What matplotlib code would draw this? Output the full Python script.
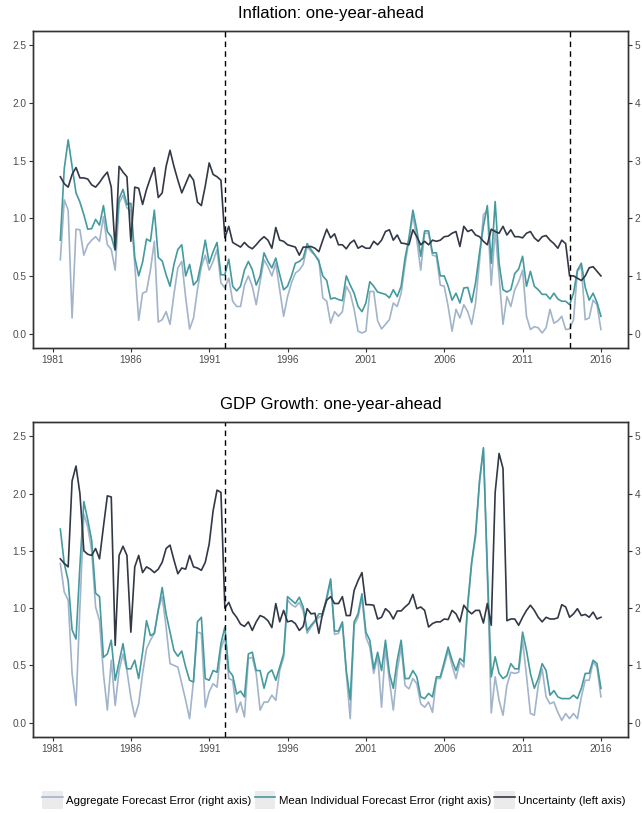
import numpy as np
import matplotlib
matplotlib.use('Agg')
import matplotlib.pyplot as plt
from matplotlib.patches import Rectangle
from matplotlib.lines import Line2D
from matplotlib.legend_handler import HandlerTuple

plt.rcParams['font.family'] = ['Liberation Sans', 'DejaVu Sans']

# quarterly observations, 1981Q3 .. 2016Q1
quarters = 1981.5 + 0.25 * np.arange(139)

# Inflation: uncertainty (left axis)
infl_unc = [1.36, 1.30, 1.27, 1.38, 1.44, 1.35, 1.35, 1.34, 1.29, 1.27,
            1.31, 1.36, 1.40, 1.27, 0.73, 1.45, 1.40, 1.36, 0.80, 1.27,
            1.26, 1.12, 1.25, 1.35, 1.44, 1.18, 1.22, 1.45, 1.59, 1.45,
            1.33, 1.22, 1.30, 1.38, 1.33, 1.14, 1.11, 1.28, 1.48, 1.38,
            1.36, 1.33, 0.83, 0.93, 0.79, 0.77, 0.75, 0.79, 0.755, 0.735,
            0.77, 0.81, 0.84, 0.81, 0.74, 0.92, 0.81, 0.80, 0.77, 0.76,
            0.75, 0.68, 0.75, 0.75, 0.755, 0.74, 0.71, 0.81, 0.905, 0.83,
            0.865, 0.77, 0.77, 0.735, 0.785, 0.81, 0.74, 0.76, 0.74, 0.74,
            0.80, 0.77, 0.81, 0.885, 0.90, 0.81, 0.855, 0.785, 0.78, 0.77,
            0.90, 0.84, 0.77, 0.80, 0.77, 0.81, 0.80, 0.81, 0.84, 0.845,
            0.87, 0.885, 0.755, 0.93, 0.885, 0.90, 0.855, 0.84, 0.80, 0.77,
            0.905, 0.885, 0.87, 0.93, 0.855, 0.90, 0.84, 0.84, 0.83, 0.87,
            0.885, 0.83, 0.80, 0.84, 0.85, 0.81, 0.78, 0.74, 0.81, 0.78,
            0.50, 0.50, 0.48, 0.46, 0.50, 0.57, 0.58, 0.54, 0.50]
# Inflation: aggregate forecast error (right axis)
infl_agg = [1.28, 2.32, 2.14, 0.27, 1.81, 1.80, 1.36, 1.54, 1.62, 1.68,
            1.60, 2.03, 1.54, 1.46, 1.10, 2.26, 2.40, 2.18, 2.12, 1.20,
            0.23, 0.70, 0.73, 1.10, 1.60, 0.20, 0.24, 0.38, 0.16, 0.68,
            1.14, 1.25, 0.62, 0.08, 0.27, 0.76, 1.16, 1.36, 1.10, 1.25,
            1.46, 0.88, 0.79, 0.96, 0.56, 0.47, 0.47, 0.84, 1.00, 0.82,
            0.50, 0.90, 1.28, 1.16, 1.00, 1.22, 0.76, 0.30, 0.64, 0.88,
            1.05, 1.10, 1.20, 1.51, 1.42, 1.36, 1.28, 0.62, 0.56, 0.18,
            0.38, 0.30, 0.38, 0.82, 0.70, 0.42, 0.04, 0.01, 0.04, 0.73,
            0.73, 0.22, 0.08, 0.16, 0.24, 0.53, 0.47, 0.70, 1.20, 1.62,
            2.06, 1.62, 1.10, 1.74, 1.74, 1.36, 1.34, 0.84, 0.82, 0.47,
            0.04, 0.42, 0.27, 0.50, 0.38, 0.16, 0.53, 1.25, 2.06, 2.14,
            0.84, 1.80, 1.00, 0.16, 0.64, 0.47, 0.76, 0.90, 1.10, 0.30,
            0.07, 0.12, 0.10, 0.01, 0.10, 0.42, 0.18, 0.22, 0.30, 0.07,
            0.08, 0.24, 1.08, 1.16, 0.24, 0.27, 0.58, 0.50, 0.07]
# Inflation: mean individual forecast error (right axis)
infl_mean = [1.62, 2.86, 3.36, 2.90, 2.44, 2.28, 2.06, 1.81, 1.82, 1.98,
             1.88, 2.22, 1.77, 1.68, 1.44, 2.34, 2.50, 2.24, 2.26, 1.32,
             1.00, 1.24, 1.64, 1.60, 2.14, 1.32, 1.26, 1.02, 0.82, 1.20,
             1.46, 1.54, 1.00, 1.20, 0.84, 0.92, 1.24, 1.62, 1.22, 1.42,
             1.58, 1.02, 1.02, 1.29, 0.82, 0.74, 0.82, 1.10, 1.25, 1.11,
             0.84, 1.00, 1.40, 1.25, 1.14, 1.31, 1.02, 0.76, 0.82, 1.00,
             1.22, 1.25, 1.31, 1.56, 1.46, 1.36, 1.25, 1.00, 0.92, 0.60,
             0.62, 0.59, 0.57, 1.00, 0.84, 0.70, 0.47, 0.38, 0.53, 0.90,
             0.82, 0.72, 0.70, 0.68, 0.62, 0.76, 0.64, 0.82, 1.31, 1.66,
             2.14, 1.80, 1.34, 1.78, 1.78, 1.40, 1.40, 1.00, 1.00, 0.82,
             0.58, 0.70, 0.53, 0.79, 0.80, 0.54, 0.88, 1.40, 1.86, 2.22,
             1.22, 2.29, 1.22, 0.76, 0.72, 0.76, 1.04, 1.12, 1.34, 0.82,
             1.08, 0.82, 0.76, 0.68, 0.68, 0.60, 0.70, 0.60, 0.56, 0.56,
             0.50, 0.70, 1.10, 1.22, 0.80, 0.58, 0.70, 0.54, 0.30]

# GDP growth: uncertainty (left axis)
gdp_unc = [1.43, 1.39, 1.36, 2.11, 2.24, 2.00, 1.50, 1.47, 1.46, 1.52,
           1.43, 1.71, 1.98, 1.97, 0.675, 1.46, 1.54, 1.46, 0.79, 1.36,
           1.46, 1.31, 1.36, 1.34, 1.31, 1.34, 1.40, 1.52, 1.55, 1.42,
           1.30, 1.35, 1.34, 1.46, 1.36, 1.35, 1.33, 1.40, 1.56, 1.85,
           2.03, 2.01, 1.00, 1.05, 0.965, 0.92, 0.86, 0.84, 0.88, 0.805,
           0.88, 0.935, 0.92, 0.89, 0.83, 1.04, 0.88, 0.98, 0.88, 0.89,
           0.865, 0.805, 0.84, 0.995, 0.95, 0.955, 0.78, 0.965, 1.07, 1.10,
           1.04, 1.04, 1.10, 0.935, 0.935, 1.155, 1.24, 1.31, 1.03, 1.03,
           1.025, 0.905, 0.92, 0.995, 0.965, 0.905, 0.975, 0.975, 1.01, 1.04,
           1.12, 0.995, 1.01, 0.98, 0.835, 0.865, 0.88, 0.88, 0.905, 0.90,
           0.98, 0.95, 0.88, 1.025, 0.98, 0.95, 0.98, 0.98, 0.87, 1.04,
           0.85, 2.01, 2.35, 2.22, 0.89, 0.905, 0.905, 0.85, 0.92, 0.98,
           1.025, 0.98, 0.92, 0.88, 0.92, 0.905, 0.905, 0.915, 1.03, 1.01,
           0.92, 0.95, 0.995, 0.935, 0.945, 0.92, 0.965, 0.905, 0.92]
# GDP growth: aggregate forecast error (right axis)
gdp_agg = [2.78, 2.28, 2.14, 0.86, 0.30, 2.02, 3.64, 3.42, 3.00, 2.02,
           1.78, 0.86, 0.22, 1.09, 0.30, 0.91, 1.20, 0.91, 0.44, 0.10,
           0.33, 0.86, 1.29, 1.44, 1.56, 1.98, 2.20, 1.67, 1.03, 1.00,
           0.97, 0.68, 0.39, 0.07, 0.74, 1.58, 1.56, 0.27, 0.54, 0.68,
           0.62, 1.29, 1.49, 0.77, 0.74, 0.18, 0.36, 0.10, 1.12, 1.14,
           0.86, 0.22, 0.36, 0.36, 0.48, 0.39, 0.91, 1.14, 2.14, 2.06,
           2.02, 2.10, 1.95, 1.56, 1.67, 1.76, 1.84, 1.87, 2.14, 2.48,
           1.54, 1.56, 1.73, 0.86, 0.07, 1.70, 1.84, 2.19, 1.50, 1.32,
           0.86, 1.17, 0.27, 1.32, 0.74, 0.22, 0.91, 1.32, 0.65, 0.59,
           0.77, 0.68, 0.33, 0.27, 0.36, 0.18, 0.77, 0.77, 1.00, 1.26,
           1.00, 0.77, 1.06, 0.97, 2.02, 2.78, 3.24, 4.18, 4.78, 2.60,
           0.17, 0.80, 0.39, 0.13, 0.65, 0.88, 0.86, 0.88, 1.44, 0.82,
           0.16, 0.13, 0.65, 0.94, 0.45, 0.33, 0.36, 0.18, 0.04, 0.16,
           0.07, 0.16, 0.07, 0.45, 0.74, 0.74, 1.06, 0.97, 0.45]
# GDP growth: mean individual forecast error (right axis)
gdp_mean = [3.38, 2.78, 2.48, 1.62, 1.46, 2.74, 3.86, 3.54, 3.18, 2.26,
            2.20, 1.14, 1.20, 1.44, 0.74, 1.06, 1.38, 0.94, 0.94, 1.09,
            0.77, 1.23, 1.78, 1.52, 1.56, 1.96, 2.36, 1.90, 1.58, 1.26,
            1.16, 1.25, 0.97, 0.74, 0.71, 1.76, 1.84, 0.77, 0.74, 0.91,
            0.88, 1.38, 1.67, 0.91, 0.82, 0.50, 0.55, 0.45, 1.20, 1.23,
            0.91, 0.91, 0.60, 0.86, 0.92, 0.74, 0.97, 1.20, 2.20, 2.14,
            2.08, 2.19, 2.02, 1.61, 1.70, 1.78, 1.90, 1.90, 2.19, 2.51,
            1.60, 1.60, 1.76, 0.91, 0.40, 1.76, 1.90, 2.25, 1.58, 1.44,
            0.94, 1.23, 0.91, 1.44, 0.86, 0.60, 1.09, 1.44, 0.77, 0.77,
            0.91, 0.80, 0.45, 0.42, 0.51, 0.45, 0.80, 0.80, 1.06, 1.32,
            1.09, 0.91, 1.12, 1.06, 2.08, 2.80, 3.30, 4.22, 4.80, 2.70,
            0.80, 1.15, 0.86, 0.77, 0.82, 1.03, 0.94, 0.94, 1.58, 1.26,
            0.86, 0.60, 0.77, 1.03, 0.91, 0.48, 0.56, 0.45, 0.42, 0.42,
            0.42, 0.48, 0.42, 0.60, 0.86, 0.86, 1.09, 1.03, 0.60]

c_agg = '#a1b4ca'
c_mean = '#449a9e'
c_unc = '#323846'
tick_color = '#4d4d4d'

fig = plt.figure(figsize=(6.42, 8.13), dpi=100)
ax_top = fig.add_axes([0.052, 0.572, 0.926, 0.390])
ax_bot = fig.add_axes([0.052, 0.0935, 0.926, 0.3875])


def draw_panel(ax, title, unc, agg, mean, breaks):
    ax2 = ax.twinx()
    ax2.plot(quarters, agg, color=c_agg, lw=1.2)
    ax2.plot(quarters, mean, color=c_mean, lw=1.2)
    ax.plot(quarters, unc, color=c_unc, lw=1.2)
    for b in breaks:
        ax.axvline(b, color='black', ls=(0, (4, 3)), lw=1.0)
    ax.set_zorder(ax2.get_zorder() + 1)
    ax.patch.set_visible(False)

    ax.set_xlim(1979.78, 2017.72)
    ax.set_ylim(-0.125, 2.625)
    ax2.set_ylim(-0.25, 5.25)
    ax.set_xticks(range(1981, 2017, 5))
    ax.set_yticks([0, 0.5, 1.0, 1.5, 2.0, 2.5])
    ax.set_yticklabels(['0.0', '0.5', '1.0', '1.5', '2.0', '2.5'])
    ax2.set_yticks(range(6))
    for a in (ax, ax2):
        a.tick_params(length=3, width=0.8, color='#333333',
                      labelcolor=tick_color, labelsize=7.3, pad=2)
        for s in a.spines.values():
            s.set_color('#333333')
            s.set_linewidth(1.0)
    ax.set_title(title, fontsize=12, pad=9)


draw_panel(ax_top, 'Inflation: one-year-ahead', infl_unc, infl_agg, infl_mean, [1992.0, 2014.0])
draw_panel(ax_bot, 'GDP Growth: one-year-ahead', gdp_unc, gdp_agg, gdp_mean, [1992.0])

key_bg = '#ebebeb'
handles = [(Rectangle((0, 0), 1, 1, fc=key_bg, ec='none'), Line2D([], [], color=c, lw=1.2))
           for c in (c_agg, c_mean, c_unc)]
labels = ['Aggregate Forecast Error (right axis)',
          'Mean Individual Forecast Error (right axis)',
          'Uncertainty (left axis)']
fig.legend(handles, labels, loc='center', bbox_to_anchor=(0.52, 0.016), ncol=3,
           frameon=False, handler_map={tuple: HandlerTuple(ndivide=1, pad=0)},
           handlelength=1.8, handleheight=2.0, columnspacing=0.3,
           handletextpad=0.3, fontsize=8.2)

fig.savefig('out.png', dpi=100)
